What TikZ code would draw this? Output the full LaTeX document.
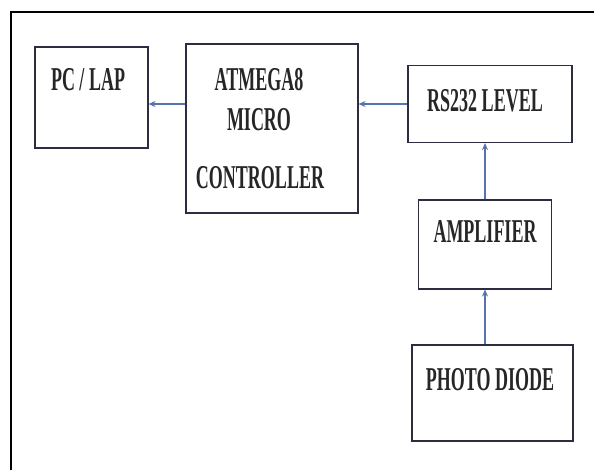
\documentclass[tikz,border=0pt]{standalone}
\usepackage{fontspec}
\setmainfont{Liberation Serif}
\usepackage{graphicx}
\usetikzlibrary{arrows.meta,positioning}
\definecolor{boxline}{RGB}{45,45,65}
\definecolor{linkblue}{RGB}{85,115,175}
\newcommand{\tallbf}[1]{\scalebox{1}[1.85]{\bfseries #1}}

\begin{document}
\begin{tikzpicture}[
  x=1pt, y=-1pt,
  every node/.style={font=\fontsize{18}{20}\selectfont},
  block/.style={rectangle, draw=boxline, line width=1.1pt, inner sep=0pt},
  txt/.style={inner sep=0pt, text=black!85},
  link/.style={-{Stealth[length=7pt,width=6pt]}, linkblue, line width=1.1pt},
  frame/.style={draw=black, line width=2pt},
]

%% ── Page and outer frame ───────────────────────────────────────────────
\clip (0,0) rectangle (594,470);
\fill[white] (0,0) rectangle (594,470);
\draw[frame] (11,12) rectangle (610,490);

%% ── Blocks ─────────────────────────────────────────────────────────────
\node[block, minimum width=113pt, minimum height=101pt] (pc)     at (91.5, 97.5) {};
\node[block, minimum width=172pt, minimum height=169pt] (atmega) at (272, 128.5) {};
\node[block, minimum width=164pt, minimum height=77pt]  (rs232)  at (490, 104)   {};
\node[block, minimum width=133pt, minimum height=89pt]  (amp)    at (485, 244.5) {};
\node[block, minimum width=161pt, minimum height=96pt]  (pdiode) at (492.5, 393) {};

%% ── Block texts ────────────────────────────────────────────────────────
\node[txt] (pcT)    at (88, 80)   {\tallbf{PC / LAP}};
\node[txt] (atmT1)  at (259, 80)  {\tallbf{ATMEGA8}};
\node[txt] (atmT2)  at (259, 120) {\tallbf{MICRO}};
\node[txt] (atmT3)  at (260, 178) {\tallbf{CONTROLLER}};
\node[txt] (rsT)    at (485, 101) {\tallbf{RS232 LEVEL}};
\node[txt] (ampT)   at (485, 232) {\tallbf{AMPLIFIER}};
\node[txt] (pdT)    at (490, 380) {\tallbf{PHOTO DIODE}};

%% ── Signal flow ────────────────────────────────────────────────────────
\draw[link] (pdiode.north -| amp.south) -- (amp.south);
\draw[link] (amp.north) -- (amp.north |- rs232.south);
\draw[link] (rs232.west) -- (atmega.east |- rs232.west);
\draw[link] (atmega.west |- rs232.west) -- (pc.east |- rs232.west);

\end{tikzpicture}
\end{document}
